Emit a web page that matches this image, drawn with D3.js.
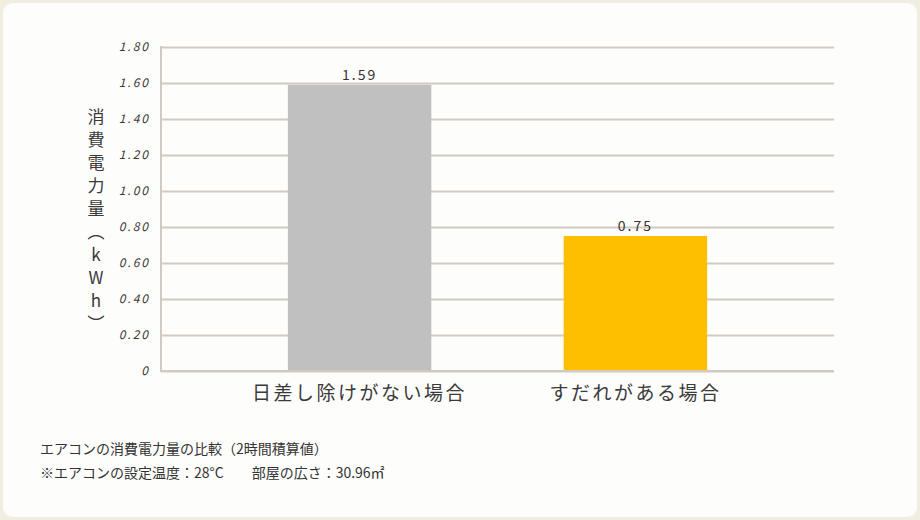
<!DOCTYPE html>
<html><head><meta charset="utf-8">
<script src="https://cdn.jsdelivr.net/npm/d3@7"></script>
<style>
html,body{margin:0;padding:0;background:#f1ede1;}
svg{display:block;}
</style></head>
<body>
<svg id="chart" width="920" height="520"></svg>
<script>
const categories = ["日差し除けがない場合", "すだれがある場合"];
const values = [1.59, 0.75];
const valueLabels = ["1.59", "0.75"];
const barColors = ["#c0c0c0", "#fdbf00"];
const yTicks = [0, 0.2, 0.4, 0.6, 0.8, 1.0, 1.2, 1.4, 1.6, 1.8];
const yTickLabels = ["0", "0.20", "0.40", "0.60", "0.80", "1.00", "1.20", "1.40", "1.60", "1.80"];
const yTitle = "消費電力量（kWh）";
const notes = ["エアコンの消費電力量の比較（2時間積算値）", "※エアコンの設定温度：28°C　　部屋の広さ：30.96㎡"];

const svg = d3.select("#chart");
svg.append("rect").attr("x", 0).attr("y", 0).attr("width", 920).attr("height", 520).attr("fill", "#f1ede1");
svg.append("rect").attr("x", 3).attr("y", 3).attr("width", 914).attr("height", 514)
  .attr("rx", 10).attr("fill", "#fdfdfc");

const x0 = 161, x1 = 834, yTop = 47, yBot = 371;
const y = d3.scaleLinear().domain([0, 1.8]).range([yBot, yTop]);
const x = d3.scaleBand().domain(categories).range([x0, x1]).paddingInner(0.48).paddingOuter(0.46);

const hand = "'Noto Sans CJK JP', 'Noto Sans', sans-serif";
const gridColor = "#d2c9c1";

// grid lines via axis
const yAxis = d3.axisLeft(y).tickValues(yTicks).tickSize(-(x1 - x0))
  .tickFormat((d, i) => yTickLabels[i]);
const gAxis = svg.append("g").attr("transform", `translate(${x0},0)`).call(yAxis);
gAxis.select(".domain").remove();
gAxis.selectAll(".tick line").attr("stroke", gridColor).attr("stroke-width", 2);
gAxis.selectAll(".tick text").attr("x", -11).attr("fill", "#3a3a3a")
  .attr("font-family", hand).attr("font-size", 12).attr("font-style", "italic")
  .attr("letter-spacing", 2);

// left axis line
svg.append("line").attr("x1", x0).attr("x2", x0).attr("y1", yTop - 1).attr("y2", yBot + 1)
  .attr("stroke", gridColor).attr("stroke-width", 2);

// bars
svg.selectAll("rect.bar").data(values).enter().append("rect").attr("class", "bar")
  .attr("x", (d, i) => x(categories[i]))
  .attr("width", x.bandwidth())
  .attr("y", d => y(d))
  .attr("height", d => y(0) - y(d))
  .attr("fill", (d, i) => barColors[i]);

// redraw baseline over bars
svg.append("line").attr("x1", x0).attr("x2", x1).attr("y1", y(0)).attr("y2", y(0))
  .attr("stroke", gridColor).attr("stroke-width", 2);

// value labels
svg.selectAll("text.val").data(values).enter().append("text").attr("class", "val")
  .attr("x", (d, i) => x(categories[i]) + x.bandwidth() / 2)
  .attr("y", d => y(d) - 5)
  .attr("text-anchor", "middle").attr("fill", "#333")
  .attr("font-family", hand).attr("font-size", 14).attr("letter-spacing", 2)
  .text((d, i) => valueLabels[i]);

// category labels
svg.selectAll("text.cat").data(categories).enter().append("text").attr("class", "cat")
  .attr("x", d => x(d) + x.bandwidth() / 2)
  .attr("y", 400)
  .attr("text-anchor", "middle").attr("fill", "#3a3a3a")
  .attr("font-family", hand).attr("font-size", 19).attr("letter-spacing", 2.5)
  .text(d => d);

// y title (vertical, single text)
svg.append("text")
  .attr("x", 96).attr("y", 108)
  .attr("fill", "#3a3a3a")
  .attr("font-family", hand).attr("font-size", 17)
  .style("writing-mode", "vertical-rl")
  .style("text-orientation", "upright")
  .attr("letter-spacing", 6)
  .text(yTitle);

// notes
svg.selectAll("text.note").data(notes).enter().append("text").attr("class", "note")
  .attr("x", 40).attr("y", (d, i) => 454 + i * 24)
  .attr("fill", "#333").attr("font-family", "'Noto Sans CJK JP', sans-serif")
  .attr("font-size", 14)
  .text(d => d);
</script>
</body></html>
